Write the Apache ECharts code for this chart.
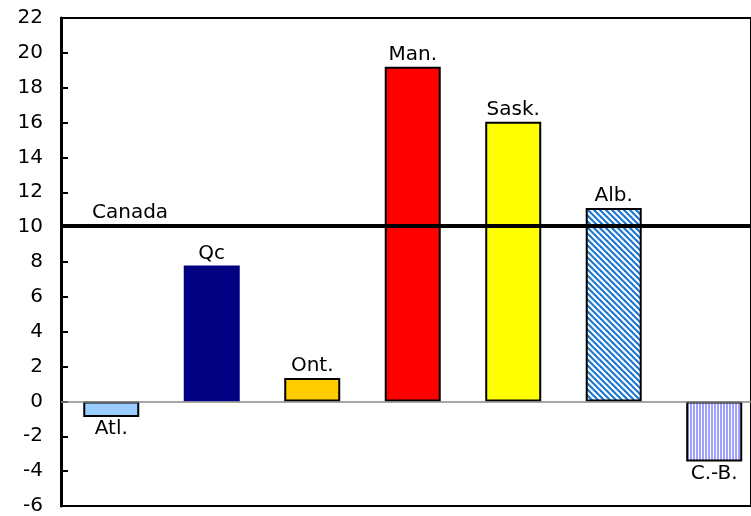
<!DOCTYPE html>
<html>
<head>
<meta charset="utf-8">
<script src="https://cdn.jsdelivr.net/npm/echarts@6/dist/echarts.min.js"></script>
<style>html,body{margin:0;padding:0;background:#fff;}#c{width:751px;height:516px;}</style>
</head>
<body>
<div id="c"></div>
<script>
var categories = ['Atl.', 'Qc', 'Ont.', 'Man.', 'Sask.', 'Alb.', 'C.-B.'];
var values = [-0.9, 7.8, 1.35, 19.2, 16.05, 11.1, -3.45];
var canadaValue = 10.1;
var yTicks = {min: -6, max: 22, interval: 2};

var FONT = 'DejaVu Sans';
var FS = 20;

function diagPattern() {
  var c = document.createElement('canvas');
  c.width = 6; c.height = 6;
  var g = c.getContext('2d');
  g.fillStyle = '#ffffff'; g.fillRect(0, 0, 6, 6);
  g.strokeStyle = '#1e78d2'; g.lineWidth = 2.2;
  for (var k = -2; k <= 2; k++) {
    g.beginPath(); g.moveTo(k * 6 - 1, -1); g.lineTo(k * 6 + 7, 7); g.stroke();
  }
  return c;
}
function vertPattern() {
  var c = document.createElement('canvas');
  c.width = 3; c.height = 3;
  var g = c.getContext('2d');
  g.fillStyle = '#ffffff'; g.fillRect(0, 0, 3, 3);
  g.fillStyle = '#a0a0ff'; g.fillRect(0, 0, 2, 3);
  return c;
}

var fills = ['#99ccff', '#000080', '#ffcc00', '#ff0000', '#ffff00',
  {image: diagPattern(), repeat: 'repeat'}, {image: vertPattern(), repeat: 'repeat'}];
var borders = [2, 0, 2, 2, 2, 2, 2];

var data = values.map(function (v, i) {
  return {
    value: [i, v],
    itemStyle: {color: fills[i], borderColor: '#000', borderWidth: borders[i]},
    label: {position: v < 0 ? 'bottom' : 'top'}
  };
});

var chart = echarts.init(document.getElementById('c'));
chart.setOption({
  animation: false,
  grid: {left: 61, top: 18, width: 690, height: 489, show: true, borderColor: '#000', borderWidth: 2},
  xAxis: {
    type: 'value', min: -0.5, max: 6.366,
    axisLine: {show: true, onZero: false, lineStyle: {color: '#000', width: 2}},
    axisTick: {show: false}, axisLabel: {show: false}, splitLine: {show: false}
  },
  yAxis: {
    type: 'value', min: yTicks.min, max: yTicks.max, interval: yTicks.interval,
    axisLine: {show: true, onZero: false, lineStyle: {color: '#000', width: 3}},
    axisTick: {show: true, inside: true, length: 7, lineStyle: {color: '#000', width: 2}},
    splitLine: {show: false},
    axisLabel: {color: '#000', fontSize: FS, fontFamily: FONT, margin: 18}
  },
  series: [{
    type: 'bar', data: data, barWidth: 56,
    label: {show: true, formatter: function (p) { return categories[p.dataIndex]; },
      color: '#000', fontSize: FS, fontFamily: FONT, distance: 2},
    markLine: {
      silent: true, symbol: 'none',
      data: [
        {yAxis: 0, lineStyle: {color: '#888', width: 1.5, type: 'solid'}, label: {show: false}},
        {yAxis: canadaValue, lineStyle: {color: '#000', width: 4, type: 'solid'},
          label: {show: true, position: 'insideStartTop', formatter: 'Canada', color: '#000',
            fontSize: FS, fontFamily: FONT, padding: [0, 0, 0, 28], distance: 3}}
      ]
    }
  }]
});
</script>
</body>
</html>
